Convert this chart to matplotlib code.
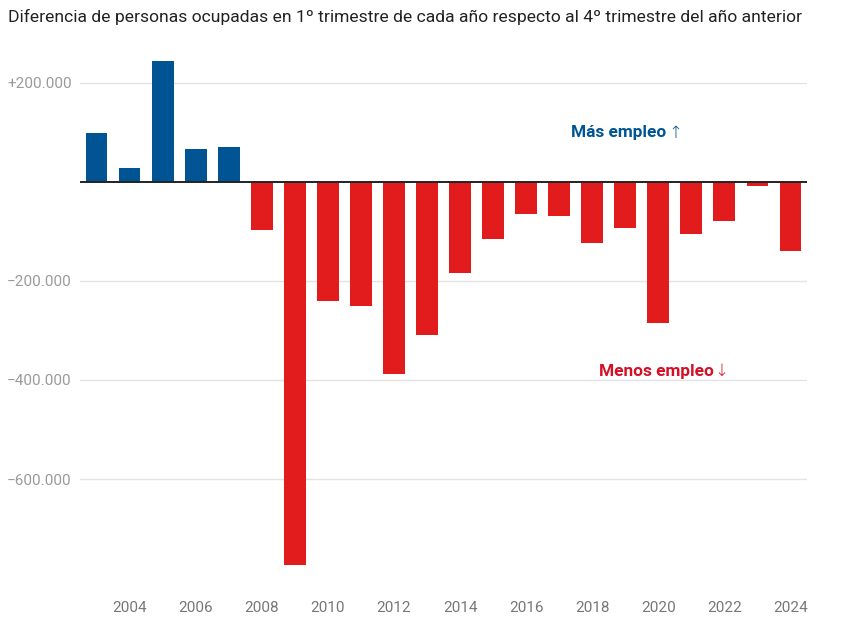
import numpy as np
import matplotlib.pyplot as plt

# datos: diferencia de ocupados 1T vs 4T del año anterior
years = list(range(2003, 2025))
values = [99000, 28000, 244000, 66000, 70000, -98000, -773000, -240000,
          -250000, -388000, -310000, -185000, -115000, -66000, -70000,
          -124000, -94000, -285000, -106000, -80000, -8000, -140000]
yticks = [200000, -200000, -400000, -600000]
ytick_labels = ['+200.000', '\u2212200.000', '\u2212400.000', '\u2212600.000']
xticks = list(range(2004, 2025, 2))

blue = '#005493'
red = '#E21B1D'

plt.rcParams['font.family'] = ['Roboto', 'DejaVu Sans']

fig = plt.figure(figsize=(8.65, 6.27), dpi=100)
ax = fig.add_axes([80 / 865, 1 - 588 / 627, 727 / 865, 535 / 627])

colors = [blue if v >= 0 else red for v in values]
ax.bar(years, values, width=0.66, color=colors, zorder=3)

ax.set_xlim(2002.5, 2024.5)
ax.set_ylim(-820000, 260000)

ax.set_yticks(yticks)
ax.set_yticklabels(ytick_labels)
ax.set_xticks(xticks)
ax.set_xticklabels([str(x) for x in xticks])

ax.tick_params(axis='y', length=0, pad=6, labelsize=11, labelcolor='#9a9a9a')
ax.tick_params(axis='x', length=0, pad=9, labelsize=11, labelcolor='#777777')

for t in yticks:
    ax.axhline(t, color='#e3e3e3', lw=1, zorder=1)
ax.axhline(0, color='#222222', lw=1.4, zorder=4)

for s in ax.spines.values():
    s.set_visible(False)

# etiquetas: texto en negrita, flecha fina
ax.text(2018.79, 99000, 'Más empleo', color=blue, fontsize=12.4,
        fontweight='bold', ha='center', va='center')
ax.text(2020.5, 99000, '\u2191', color=blue, fontsize=12,
        family=['DejaVu Sans'], fontweight='light', ha='center', va='center')
ax.text(2019.93, -382000, 'Menos empleo', color='#D50F25', fontsize=12.4,
        fontweight='bold', ha='center', va='center')
ax.text(2021.92, -382000, '\u2193', color='#D50F25', fontsize=12,
        family=['DejaVu Sans'], fontweight='light', ha='center', va='center')

fig.text(8 / 865, 1 - 17 / 627,
         'Diferencia de personas ocupadas en 1º trimestre de cada año respecto al 4º trimestre del año anterior',
         fontsize=12.6, color='#222222', ha='left', va='center')

fig.savefig('out.png', dpi=100)
